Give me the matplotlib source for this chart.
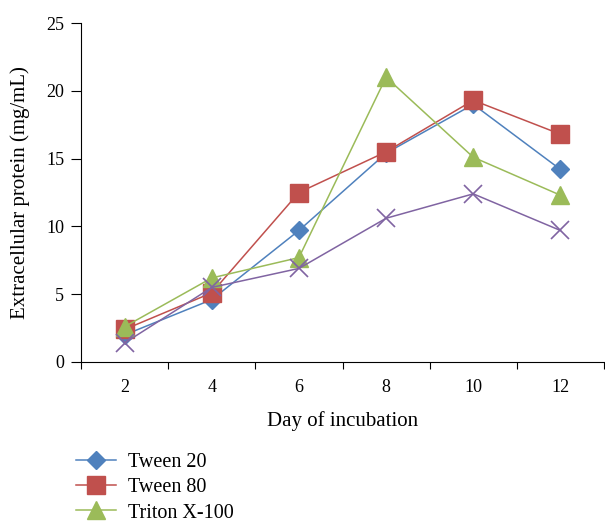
import matplotlib
matplotlib.use("Agg")
import matplotlib.pyplot as plt
from matplotlib.ticker import FixedLocator

# ── Data ───────────────────────────────────────────────────
days = [2, 4, 6, 8, 10, 12]
tween20 = [2.0, 4.6, 9.7, 15.4, 19.0, 14.2]
tween80 = [2.4, 5.1, 12.5, 15.5, 19.3, 16.8]
triton = [2.6, 6.2, 7.7, 21.0, 15.1, 12.3]
control = [1.4, 5.5, 6.9, 10.6, 12.4, 9.7]

plt.rcParams["font.family"] = ["Liberation Serif", "DejaVu Serif"]

fig = plt.figure(figsize=(6.05, 5.21), dpi=100)
ax = fig.add_axes([81 / 605, 1 - 362 / 521, 523 / 605, 339 / 521])

ax.plot(days, tween20, color="#4F81BD", marker="D", markersize=9, lw=1.1,
        label="Tween 20", zorder=3)
ax.plot(days, tween80, color="#C0504D", marker="s", markersize=12.5, lw=1.1,
        label="Tween 80", zorder=3)
ax.plot(days, triton, color="#9BBB59", marker="^", markersize=13, lw=1.1,
        label="Triton X-100", zorder=3)
# fourth series: its legend entry falls below the visible area in the source
ax.plot(days, control, color="#8064A2", marker="x", markersize=12.5, mew=1.2,
        lw=1.1, zorder=3)

ax.set_xlim(1, 13)
ax.set_ylim(0, 25)
ax.set_yticks([0, 5, 10, 15, 20, 25])
ax.set_xticks(days)
ax.xaxis.set_minor_locator(FixedLocator([1, 3, 5, 7, 9, 11, 13]))
ax.tick_params(axis="x", which="major", length=0, pad=12, labelsize=13)
ax.tick_params(axis="x", which="minor", length=5, direction="out", width=0.8)
ax.tick_params(axis="y", length=7, direction="out", width=0.8, labelsize=13, pad=5)

for side in ["top", "right"]:
    ax.spines[side].set_visible(False)
for side in ["left", "bottom"]:
    ax.spines[side].set_linewidth(0.8)

ax.set_xlabel("Day of incubation", fontsize=15, labelpad=11)
ax.set_ylabel("Extracellular protein (mg/mL)", fontsize=15, labelpad=12)

fig.legend(loc="upper left", bbox_to_anchor=(58 / 605, 1 - 435 / 521),
           frameon=False, fontsize=14.5, handlelength=2.0, labelspacing=0.3,
           handletextpad=0.6)

fig.savefig("out.png", dpi=100)
